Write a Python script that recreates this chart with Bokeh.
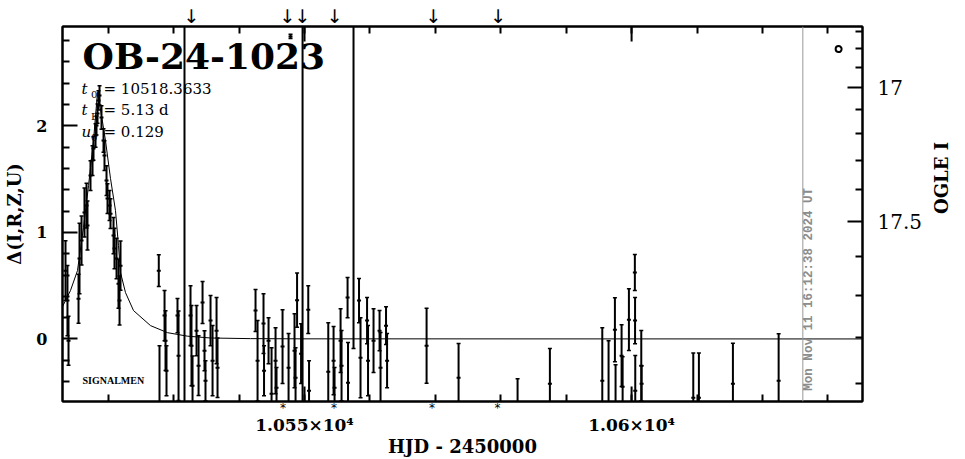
import math
from bokeh.plotting import figure
from bokeh.models import (Range1d, LinearAxis, FixedTicker, CustomJSTickFormatter,
                          Label, ColumnDataSource, Span)
from bokeh.embed import file_html
from bokeh.resources import INLINE

# ---------------- photometry ----------------
hjd = [
    10513.46, 10513.76, 10513.92, 10515.45, 10515.60, 10515.91, 10516.36, 10516.67, 10516.82,
    10517.28, 10517.59, 10517.74, 10518.05, 10518.20, 10518.35, 10518.50, 10518.66, 10518.96,
    10519.27, 10519.42, 10519.73, 10519.88, 10520.19, 10520.34, 10520.80, 10520.95, 10521.26,
    10521.56, 10521.72, 10521.87,
    10527.72, 10527.83, 10528.60, 10528.75, 10528.90, 10530.58, 10530.74, 10531.65,
    10532.57, 10532.72, 10532.88, 10533.49, 10533.80, 10534.41, 10534.71, 10534.86,
    10535.63, 10535.94, 10536.55, 10536.70,
    10542.51, 10542.82, 10543.73, 10543.81, 10544.50, 10544.96, 10545.57, 10545.72,
    10546.64, 10547.56, 10547.86, 10548.47, 10548.63, 10548.86, 10549.47, 10549.70,
    10550.57, 10550.69,
    10553.63, 10554.44, 10554.59, 10555.51, 10555.66, 10556.58, 10556.65, 10557.49,
    10558.33, 10558.56, 10559.56, 10559.71, 10560.55, 10561.47, 10561.62, 10562.46, 10562.62,
    10568.66, 10573.55, 10582.57, 10587.51,
    10595.52, 10596.48, 10597.45, 10597.55, 10598.47, 10598.63, 10599.59, 10600.50,
    10600.53, 10600.56, 10601.48, 10601.53,
    10609.43, 10610.29, 10615.49, 10622.48,
]
delta = [
    0.641, 0.360, -0.016, 0.378, 0.755, 0.923, 1.186, 1.252, 1.064,
    1.533, 1.674, 1.787, 1.909, 2.003, 2.115, 2.238, 2.285, 2.078,
    1.862, 1.721, 1.486, 1.317, 1.252, 1.176, 0.970, 0.848, 0.755,
    0.519, 0.360, 0.688,
    0.641, -0.673, 0.219, -0.016, -0.298, 0.219, -0.157, 5.0,
    0.219, -0.063, -0.439, 0.078, -0.251, 0.341, -0.110, -0.392,
    0.172, -0.204, 0.078, -0.270,
    0.266, -0.204, 0.144, -0.298, -0.016, -0.514, -0.204, -0.457,
    -0.072, -0.270, 2.839, -0.110, -0.363, 0.364, -0.138, 5.0,
    0.275, -0.485,
    -0.307, -0.204, -0.457, -0.016, -0.251, 0.388, -0.410, 3.50,
    0.360, -0.176, 0.172, -0.204, -0.016, 0.078, -0.270, 0.125, -0.204,
    -0.063, -0.363, -0.673, -0.420,
    -0.392, -0.626, 0.087, -0.673, -0.157, -0.448, 0.181, 0.623,
    0.172, -0.485, -0.251, -0.420,
    -0.551, -0.551, -0.420, -0.392,
]
err = [
    0.28, 0.33, 0.23, 0.23, 0.33, 0.23, 0.23, 0.21, 0.23,
    0.14, 0.14, 0.11, 0.11, 0.09, 0.09, 0.09, 0.09, 0.11,
    0.11, 0.14, 0.14, 0.14, 0.14, 0.14, 0.17, 0.19, 0.19,
    0.23, 0.23, 0.23,
    0.15, 0.61, 0.235, 0.28, 0.235, 0.16, 0.42, 8.0,
    0.28, 0.376, 0.28, 0.235, 0.28, 0.197, 0.188, 0.188,
    0.235, 0.33, 0.31, 0.28,
    0.197, 0.376, 0.28, 0.235, 0.216, 0.432, 0.31, 0.188,
    0.347, 0.32, 0.02, 0.347, 0.28, 0.254, 0.28, 8.0,
    0.225, 0.28,
    0.46, 0.32, 0.188, 0.30, 0.33, 0.188, 0.376, 3.59,
    0.207, 0.376, 0.216, 0.33, 0.30, 0.188, 0.33, 0.178, 0.254,
    0.352, 0.32, 0.30, 0.33,
    0.498, 0.61, 0.30, 0.43, 0.29, 0.28, 0.29, 0.169,
    0.216, 0.33, 0.33, 0.169,
    0.42, 0.42, 0.38, 0.44,
]

# model light curve
model_hjd = [10513.00, 10514.22, 10515.29, 10516.21, 10516.98, 10517.74, 10518.35, 10518.96,
             10519.57, 10520.34, 10521.10, 10521.56, 10521.87, 10522.63, 10523.86, 10526.46,
             10529.05, 10532.11, 10535.63, 10541.75, 10549.39, 10635.30]
model_delta = [0.303, 0.454, 0.641, 1.045, 1.439, 1.862, 2.313, 2.097,
               1.862, 1.505, 1.205, 0.876, 0.623, 0.435, 0.266, 0.125,
               0.059, 0.026, 0.009, 0.003, 0.001, 0.0]

# epoch markers
arrow_hjd = [10532.7, 10547.4, 10549.7, 10554.6, 10569.7, 10579.6]
star_hjd = [10546.7, 10554.5, 10569.5, 10579.5]
extra_point_hjd = [10631.65]
extra_point_delta = [2.72]
date_hjd = 10626.18

# axes
X_START, X_END = 10513.0, 10635.3
Y_START, Y_END = -0.587, 2.932
x_major = [10550, 10600]
x_minor = [10520, 10530, 10540, 10560, 10570, 10580, 10590, 10610, 10620, 10630]
y_major = [0, 1, 2]
y_minor = [-0.4, -0.2, 0.2, 0.4, 0.6, 0.8, 1.2, 1.4, 1.6, 1.8, 2.2, 2.4, 2.6, 2.8]
ogle_major = [17.0, 17.5]
ogle_minor = [16.7, 16.8, 16.9, 17.1, 17.2, 17.3, 17.4, 17.6, 17.7, 17.8, 17.9]
OGLE_A, OGLE_B = 4.518, 2.156   # delta = A - B * 10**(0.4*(I-17))


def mag_to_delta(m):
    return OGLE_A - OGLE_B * 10 ** (0.4 * (m - 17.0))


FRAME_H = 375
p = figure(width=965, height=459,
           x_range=Range1d(X_START, X_END), y_range=Range1d(Y_START, Y_END),
           output_backend="svg", toolbar_location=None,
           x_axis_location=None, y_axis_location=None,
           min_border_left=62, min_border_right=103, min_border_top=26, min_border_bottom=58)
p.xgrid.grid_line_color = None
p.ygrid.grid_line_color = None
p.outline_line_color = "black"
p.outline_line_width = 2
p.background_fill_color = "white"
p.border_fill_color = "white"

SERIF = "DejaVu Serif"


def style_axis(ax, major_len, minor_len):
    ax.axis_line_width = 2
    ax.axis_line_color = "black"
    ax.major_tick_in = major_len
    ax.major_tick_out = 0
    ax.minor_tick_in = minor_len
    ax.minor_tick_out = 0
    ax.major_tick_line_width = 2
    ax.minor_tick_line_width = 2
    ax.major_tick_line_color = "black"
    ax.minor_tick_line_color = "black"


all_x_ticks = sorted(x_minor + x_major)

# bottom: inner axis carries the frame ticks and the epoch asterisks
bottom_marks = LinearAxis(ticker=FixedTicker(ticks=star_hjd, minor_ticks=all_x_ticks),
                          formatter=CustomJSTickFormatter(code="return '*';"))
style_axis(bottom_marks, 0, 7)
bottom_marks.major_label_standoff = -1
bottom_marks.major_label_text_font = "DejaVu Sans"
bottom_marks.major_label_text_font_size = "12px"
bottom_marks.major_label_text_color = "black"
p.add_layout(bottom_marks, "below")

# bottom: outer axis carries the numbers and the title
xfmt = CustomJSTickFormatter(code="return (tick/1e4).toString() + '\u00d710\u2074';")
bottom = LinearAxis(ticker=FixedTicker(ticks=x_major, minor_ticks=[]), formatter=xfmt)
bottom.axis_line_color = None
bottom.major_tick_line_color = None
bottom.minor_tick_line_color = None
bottom.major_tick_in = 0
bottom.major_tick_out = 0
bottom.major_label_standoff = -3
bottom.major_label_text_font = SERIF
bottom.major_label_text_font_style = "bold"
bottom.major_label_text_font_size = "17px"
bottom.major_label_text_color = "black"
bottom.axis_label = "HJD - 2450000"
bottom.axis_label_text_font = SERIF
bottom.axis_label_text_font_style = "bold"
bottom.axis_label_text_font_size = "18px"
bottom.axis_label_text_color = "black"
bottom.axis_label_standoff = -2
p.add_layout(bottom, "below")

# top: frame ticks plus the epoch arrows
top = LinearAxis(ticker=FixedTicker(ticks=arrow_hjd, minor_ticks=all_x_ticks),
                 formatter=CustomJSTickFormatter(code="return '\u2193';"))
style_axis(top, 0, 7)
top.major_label_standoff = 0
top.major_label_text_font = "DejaVu Sans"
top.major_label_text_font_size = "19px"
top.major_label_text_color = "black"
p.add_layout(top, "above")

# long ticks at the labelled HJD values (top and bottom edges)
dy = 15 * (Y_END - Y_START) / FRAME_H
p.segment(x0=x_major, y0=[Y_END] * len(x_major), x1=x_major, y1=[Y_END - dy] * len(x_major),
          line_color="black", line_width=2)
p.segment(x0=x_major, y0=[Y_START] * len(x_major), x1=x_major, y1=[Y_START + dy] * len(x_major),
          line_color="black", line_width=2)

left = LinearAxis(ticker=FixedTicker(ticks=y_major, minor_ticks=y_minor))
style_axis(left, 15, 7)
left.major_label_standoff = 15
left.major_label_text_font = SERIF
left.major_label_text_font_style = "bold"
left.major_label_text_font_size = "16px"
left.major_label_text_color = "black"
left.axis_label = "\u0394(I,R,Z,U)"
left.axis_label_text_font = SERIF
left.axis_label_text_font_style = "bold"
left.axis_label_text_font_size = "18px"
left.axis_label_text_color = "black"
left.axis_label_standoff = 8
p.add_layout(left, "left")

mfmt = CustomJSTickFormatter(args=dict(A=OGLE_A, B=OGLE_B), code="""
const m = 17 + 2.5*Math.log10((A - tick)/B);
const r = Math.round(m*10)/10;
return (Math.abs(r - Math.round(r)) < 1e-6) ? r.toFixed(0) : r.toFixed(1);
""")
right = LinearAxis(ticker=FixedTicker(ticks=[mag_to_delta(m) for m in ogle_major],
                                      minor_ticks=[mag_to_delta(m) for m in ogle_minor]),
                   formatter=mfmt)
style_axis(right, 15, 7)
right.major_label_standoff = 15
right.major_label_text_font = SERIF
right.major_label_text_font_size = "20px"
right.major_label_text_color = "black"
right.axis_label = "OGLE I"
right.axis_label_text_font = SERIF
right.axis_label_text_font_style = "bold"
right.axis_label_text_font_size = "18px"
right.axis_label_text_color = "black"
right.axis_label_standoff = 16
try:
    right.axis_label_orientation = math.pi / 2
except Exception:
    pass
p.add_layout(right, "right")

# date line and stamp
p.add_layout(Span(location=date_hjd, dimension="height", line_color="#999999", line_width=1))
p.add_layout(Label(x=10627.14, y=-0.485, angle=math.pi / 2, text="Mon Nov 11 16:12:38 2024 UT",
                   text_font="Liberation Mono", text_font_style="bold", text_font_size="12.5px",
                   text_color="#8c8c8c", text_align="left", text_baseline="middle"))

# model curve
p.line(model_hjd, model_delta, line_color="black", line_width=1)

# error bars
lo = [d - e for d, e in zip(delta, err)]
hi = [d + e for d, e in zip(delta, err)]
src = ColumnDataSource(dict(t=hjd, d=delta, lo=lo, hi=hi))
p.segment(x0="t", y0="lo", x1="t", y1="hi", source=src, line_color="black", line_width=2)
p.scatter("t", "lo", source=src, marker="dash", size=4, line_color="black", line_width=1.5)
p.scatter("t", "hi", source=src, marker="dash", size=4, line_color="black", line_width=1.5)
p.scatter("t", "d", source=src, marker="dash", size=4, line_color="black", line_width=2)

p.scatter(extra_point_hjd, extra_point_delta, marker="circle", size=6, fill_color=None,
          line_color="black", line_width=2)

# texts inside the frame (anchored at their vertical middle)
p.add_layout(Label(x=10516.06, y=2.651, text="OB-24-1023", text_font=SERIF,
                   text_font_style="bold", text_font_size="36px",
                   text_color="black", text_align="left", text_baseline="middle"))
param_rows = [("t", "0", "= 10518.3633", 2.350), ("t", "E", "= 5.13 d", 2.144),
              ("u", "0", "= 0.129", 1.942)]
for sym, sub, rest, yc in param_rows:
    p.add_layout(Label(x=10515.90, y=yc, text=sym, text_font=SERIF, text_font_style="italic",
                       text_font_size="15px", text_color="black", text_baseline="middle"))
    p.add_layout(Label(x=10517.35, y=yc - 0.052, text=sub, text_font=SERIF, text_font_size="10px",
                       text_color="black", text_baseline="middle"))
    p.add_layout(Label(x=10519.27, y=yc, text=rest, text_font=SERIF, text_font_size="15px",
                       text_color="black", text_baseline="middle"))

p.add_layout(Label(x=10516.06, y=-0.392, text="SIGNALMEN", text_font="Liberation Serif",
                   text_font_style="bold", text_font_size="10px", text_color="black",
                   text_baseline="middle"))

open("out.html", "w").write(file_html(p, INLINE))
